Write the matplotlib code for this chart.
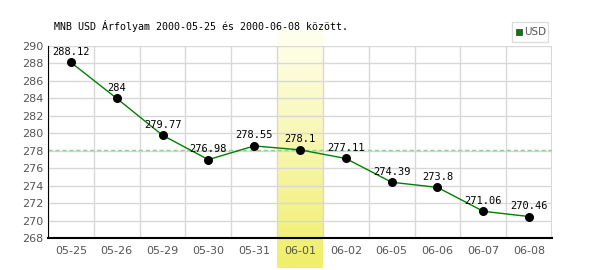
import numpy as np
import matplotlib
matplotlib.use('Agg')
import matplotlib.pyplot as plt
from matplotlib.patches import Rectangle

dates = ['05-25', '05-26', '05-29', '05-30', '05-31', '06-01',
         '06-02', '06-05', '06-06', '06-07', '06-08']
usd = [288.12, 284, 279.77, 276.98, 278.55, 278.1,
       277.11, 274.39, 273.8, 271.06, 270.46]
labels = ['288.12', '284', '279.77', '276.98', '278.55', '278.1',
          '277.11', '274.39', '273.8', '271.06', '270.46']
yticks = list(range(268, 291, 2))
hl = 5  # highlighted day
title = 'MNB USD Árfolyam 2000-05-25 és 2000-06-08 között.'

plt.rcParams['font.family'] = 'DejaVu Sans Mono'

fig = plt.figure(figsize=(6, 2.7), dpi=100)
ax = fig.add_axes([48/600, 1-238/270, 504/600, 192/270])
x = np.arange(len(dates))

ax.set_xlim(-0.5, len(dates)-0.5)
ax.set_ylim(268, 290)

# highlighted column gradient (goes beyond axes)
grad = np.linspace(0, 1, 100).reshape(-1, 1)
cmap = matplotlib.colors.LinearSegmentedColormap.from_list('hl', ['#fffff0', '#f0ee6a'])
ax.imshow(grad, cmap=cmap, aspect='auto', origin='upper',
          extent=[hl-0.5, hl+0.5, 264.55, 291.8], zorder=0, clip_on=False)

ax.set_yticks(yticks)
ax.set_xticks(x)
ax.set_xticklabels(dates)
ax.set_xticks(np.arange(-0.5, len(dates), 1), minor=True)
ax.grid(True, which='major', axis='y', color='#d8d8d8', lw=1, zorder=1)
ax.grid(True, which='minor', axis='x', color='#d8d8d8', lw=1, zorder=1)
ax.axvline(len(dates)-0.5, color='#d8d8d8', lw=1.5, zorder=1)
ax.tick_params(axis='x', which='major', length=0, labelsize=8, labelcolor='#555555', pad=6)
ax.tick_params(axis='x', which='minor', length=0)
ax.tick_params(axis='y', length=0, labelsize=8, labelcolor='#555555', pad=3)
for lbl in ax.get_yticklabels():
    lbl.set_fontfamily('DejaVu Sans')
for lbl in ax.get_xticklabels():
    lbl.set_fontfamily('DejaVu Sans')

ax.axhline(usd[hl], color='#90d090', lw=1, ls=(0, (3, 2)), zorder=2)
ax.plot(x, usd, color='#008000', lw=1, zorder=3)
ax.scatter(x, usd, s=30, color='black', zorder=4)
for xi, yi, t in zip(x, usd, labels):
    ax.annotate(t, (xi, yi), xytext=(0, 4), textcoords='offset points',
                ha='center', va='bottom', fontsize=7.5, color='black', zorder=5)

for side in ['top', 'right']:
    ax.spines[side].set_visible(False)
ax.spines['left'].set_color('black')
ax.spines['bottom'].set_color('black')
ax.spines['bottom'].set_linewidth(1.5)
ax.patch.set_alpha(0)

fig.text(54/600, 1-26/270, title, fontsize=7.2, ha='left', va='center')

# legend box
fig.patches.append(Rectangle((512/600, 1-42/270), 36/600, 20/270, transform=fig.transFigure,
                             facecolor='white', edgecolor='#dddddd', lw=1))
fig.patches.append(Rectangle((516/600, 1-35/270), 6/600, 6/270, transform=fig.transFigure,
                             facecolor='#008000', edgecolor='#333333', lw=0.5))
fig.text(524/600, 1-32/270, 'USD', fontsize=7.5, ha='left', va='center',
         color='#555555', family='DejaVu Sans')

fig.savefig('out.png', dpi=100)
